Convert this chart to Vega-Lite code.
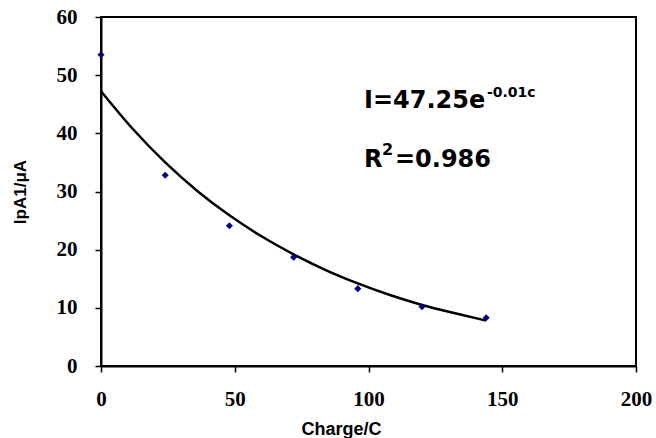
{
  "$schema": "https://vega.github.io/schema/vega-lite/v6.json",
  "width": 535,
  "height": 349,
  "autosize": {"type": "none"},
  "padding": {"left": 101, "top": 17, "right": 20, "bottom": 72},
  "background": "white",
  "config": {
    "view": {"stroke": "black", "strokeWidth": 2},
    "axis": {"grid": false, "domainColor": "black", "domainWidth": 2, "tickColor": "black", "tickWidth": 1.5, "tickSize": 6, "labelFlush": false,
      "labelFont": "Liberation Serif", "labelFontWeight": "bold", "labelFontSize": 21, "labelColor": "black",
      "titleFont": "Liberation Sans", "titleFontWeight": "bold", "titleFontSize": 18, "titleColor": "black"}
  },
  "datasets": {
    "points": [
      {"charge": 0, "ipa": 53.5},
      {"charge": 24, "ipa": 32.8},
      {"charge": 48, "ipa": 24.1},
      {"charge": 72, "ipa": 18.7},
      {"charge": 96, "ipa": 13.3},
      {"charge": 120, "ipa": 10.2},
      {"charge": 144, "ipa": 8.3}
    ],
    "fit": [
      {"charge": 0, "ipa": 47.25},
      {"charge": 12, "ipa": 40.7},
      {"charge": 24, "ipa": 35.0},
      {"charge": 36, "ipa": 30.1},
      {"charge": 48, "ipa": 25.9},
      {"charge": 60, "ipa": 22.3},
      {"charge": 72, "ipa": 19.2},
      {"charge": 84, "ipa": 16.5},
      {"charge": 96, "ipa": 14.2},
      {"charge": 108, "ipa": 12.2},
      {"charge": 120, "ipa": 10.5},
      {"charge": 132, "ipa": 9.1},
      {"charge": 144, "ipa": 7.8}
    ],
    "labels": [
      {"charge": 98.3, "ipa": 44.35, "text": "I=47.25e", "size": 24},
      {"charge": 144.3, "ipa": 46.2, "text": "-0.01c", "size": 14},
      {"charge": 98.3, "ipa": 34.2, "text": "R", "size": 24},
      {"charge": 105.0, "ipa": 36.3, "text": "2", "size": 16},
      {"charge": 109.9, "ipa": 34.2, "text": "=0.986", "size": 24}
    ]
  },
  "layer": [
    {
      "data": {"name": "fit"},
      "mark": {"type": "line", "color": "black", "strokeWidth": 2.5, "interpolate": "monotone"},
      "encoding": {
        "x": {"field": "charge", "type": "quantitative", "scale": {"domain": [0, 200]},
          "axis": {"values": [0, 50, 100, 150, 200], "title": "Charge/C", "labelPadding": 16, "titleX": 240, "titleY": 68, "titleBaseline": "alphabetic", "titleAlign": "center", "titleAnchor": null}},
        "y": {"field": "ipa", "type": "quantitative", "scale": {"domain": [0, 60]},
          "axis": {"values": [0, 10, 20, 30, 40, 50, 60], "title": "IpA1/μA", "titleFontSize": 17, "labelPadding": 18, "titlePadding": 27}}
      }
    },
    {
      "data": {"name": "points"},
      "mark": {"type": "point", "shape": "diamond", "filled": true, "color": "#000080", "size": 50, "opacity": 1},
      "encoding": {
        "x": {"field": "charge", "type": "quantitative"},
        "y": {"field": "ipa", "type": "quantitative"}
      }
    },
    {
      "data": {"name": "labels"},
      "mark": {"type": "text", "align": "left", "baseline": "alphabetic", "font": "DejaVu Sans", "fontWeight": "bold", "color": "black"},
      "encoding": {
        "x": {"field": "charge", "type": "quantitative"},
        "y": {"field": "ipa", "type": "quantitative"},
        "text": {"field": "text"},
        "size": {"field": "size", "type": "quantitative", "scale": null}
      }
    }
  ]
}
